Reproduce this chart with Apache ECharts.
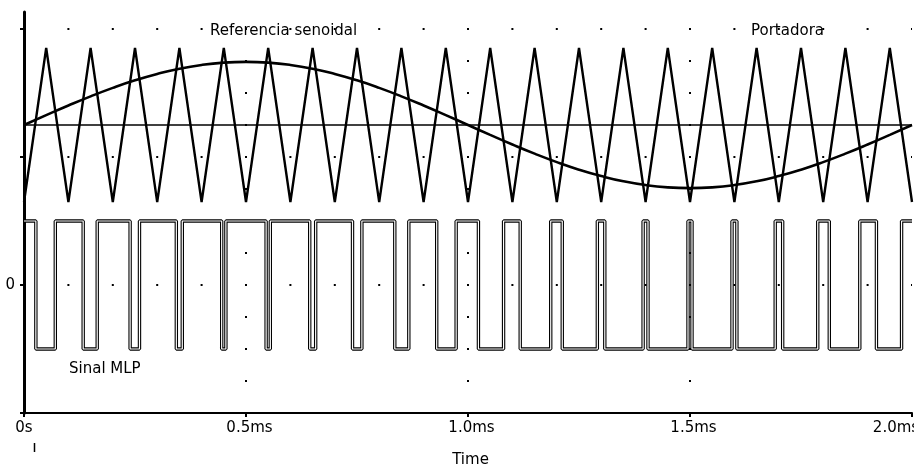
<!DOCTYPE html>
<html>
<head>
<meta charset="utf-8">
<script src="https://cdn.jsdelivr.net/npm/echarts@6/dist/echarts.min.js"></script>
<style>
  html, body { margin: 0; padding: 0; background: #fff; }
  #chart { width: 914px; height: 468px; }
</style>
</head>
<body>
<div id="chart"></div>
<script>
// Time in milliseconds.
// Triangular carrier (10 kHz): vertices of the waveform.
const carrierTimes = [
  0, 0.05, 0.1, 0.15, 0.2, 0.25, 0.3, 0.35, 0.4, 0.45,
  0.5, 0.55, 0.6, 0.65, 0.7, 0.75, 0.8, 0.85, 0.9, 0.95,
  1.0, 1.05, 1.1, 1.15, 1.2, 1.25, 1.3, 1.35, 1.4, 1.45,
  1.5, 1.55, 1.6, 1.65, 1.7, 1.75, 1.8, 1.85, 1.9, 1.95, 2.0
];
const carrierValues = [
  -1, 1, -1, 1, -1, 1, -1, 1, -1, 1,
  -1, 1, -1, 1, -1, 1, -1, 1, -1, 1,
  -1, 1, -1, 1, -1, 1, -1, 1, -1, 1,
  -1, 1, -1, 1, -1, 1, -1, 1, -1, 1, -1
];

// Sinusoidal reference, sampled on the same instants as the carrier vertices.
const referenceTimes = carrierTimes;
const referenceValues = [
  0, 0.128, 0.253, 0.372, 0.482, 0.580, 0.663, 0.731, 0.780, 0.810,
  0.820, 0.810, 0.780, 0.731, 0.663, 0.580, 0.482, 0.372, 0.253, 0.128,
  0, -0.128, -0.253, -0.372, -0.482, -0.580, -0.663, -0.731, -0.780, -0.810,
  -0.820, -0.810, -0.780, -0.731, -0.663, -0.580, -0.482, -0.372, -0.253, -0.128, 0
];

// Zero reference line of the upper traces.
const zeroLineTimes = [0, 2.0];
const zeroLineValues = [0, 0];

// PWM output: switching instants (starts high, toggles at each edge).
const pwmEdges = [
  0.0267, 0.0705, 0.1333, 0.1649, 0.2390, 0.2601, 0.3431, 0.3565, 0.4452, 0.4547,
  0.5453, 0.5548, 0.6435, 0.6569, 0.7399, 0.7610, 0.8351, 0.8667, 0.9295, 0.9733,
  1.0235, 1.0801, 1.1176, 1.1863, 1.2123, 1.2913, 1.3081, 1.3944, 1.4054, 1.4955,
  1.5045, 1.5946, 1.6056, 1.6919, 1.7087, 1.7877, 1.8137, 1.8824, 1.9199, 1.9765
];
const pwmLevels = [0.5, -0.5]; // high, low
const pwmStart = 0;
const pwmEnd = 2.0;

// Axis ticks and labels.
const timeTicks = [0, 0.5, 1.0, 1.5, 2.0];
const timeTickLabels = ['0s', '0.5ms', '1.0ms', '1.5ms', '2.0ms'];
const levelTicks = [-1, 0, 1, 2];
const levelTickLabels = ['', '0', '', ''];

const FONT = 'DejaVu Sans';
const INK = '#000';

function pairs(xs, ys) {
  return xs.map((x, i) => [x, ys[i]]);
}

function pwmPoints() {
  let state = 0;
  const pts = [[pwmStart, pwmLevels[state]]];
  pwmEdges.forEach(t => {
    pts.push([t, pwmLevels[state]]);
    state = 1 - state;
    pts.push([t, pwmLevels[state]]);
  });
  pts.push([pwmEnd, pwmLevels[state]]);
  return pts;
}

const pwmData = pwmPoints();

const chart = echarts.init(document.getElementById('chart'), null, { renderer: 'canvas' });

const option = {
  animation: false,
  backgroundColor: '#fff',
  grid: [
    { left: 24, right: 2, top: 29, bottom: 55, containLabel: false, outerBoundsMode: 'none' },
    { left: 24, right: 2, top: 12, bottom: 55, containLabel: false, outerBoundsMode: 'none' }
  ],
  xAxis: [
    {
      gridIndex: 0,
      type: 'value',
      min: timeTicks[0],
      max: timeTicks[timeTicks.length - 1],
      interval: 0.5,
      axisLine: { show: true, onZero: false, lineStyle: { color: INK, width: 2 } },
      axisTick: { show: true, inside: false, length: 4, lineStyle: { color: INK, width: 2 } },
      axisLabel: {
        color: INK,
        fontFamily: FONT,
        fontSize: 15,
        lineHeight: 15,
        margin: 8,
        formatter: function (v) {
          const i = timeTicks.findIndex(t => Math.abs(t - v) < 1e-9);
          if (i < 0) return '';
          const s = timeTickLabels[i];
          if (i === 0) return s;
          if (i === timeTicks.length - 1) return s + '{q| }';
          return '{p| }' + s;
        },
        rich: {
          p: { width: 7 },
          q: { width: 32 }
        }
      },
      splitLine: {
        show: true,
        showMaxLine: false,
        lineStyle: { color: INK, width: 2, type: [2, 30], dashOffset: 1 }
      },
      name: 'Time',
      nameLocation: 'middle',
      nameGap: 40,
      nameTextStyle: {
        color: INK, fontFamily: FONT, fontSize: 15, lineHeight: 15,
        padding: [0, 0, 0, 5]
      }
    },
    { gridIndex: 1, type: 'value', min: 0, max: 2, show: false }
  ],
  yAxis: [
    {
      gridIndex: 0,
      type: 'value',
      min: levelTicks[0],
      max: levelTicks[levelTicks.length - 1],
      interval: 1,
      axisLine: { show: false, onZero: false },
      axisTick: { show: true, inside: false, length: 4, lineStyle: { color: INK, width: 2 } },
      axisLabel: {
        color: INK,
        fontFamily: FONT,
        fontSize: 15,
        margin: 9,
        formatter: function (v) {
          const i = levelTicks.indexOf(v);
          return i < 0 ? '' : levelTickLabels[i];
        }
      },
      splitLine: {
        show: true,
        lineStyle: { color: INK, width: 2, type: [2, 42.4], dashOffset: 1 }
      }
    },
    {
      // natural units of the carrier / reference traces
      gridIndex: 0,
      type: 'value',
      min: -3.7403,
      max: 1.2468,
      show: false
    },
    {
      gridIndex: 1,
      type: 'value',
      min: 0,
      max: 1,
      axisLine: { show: true, onZero: false, lineStyle: { color: INK, width: 3 } },
      axisTick: { show: false },
      axisLabel: { show: false },
      splitLine: { show: false }
    }
  ],
  series: [
    {
      name: 'Referencia senoidal zero',
      type: 'line',
      xAxisIndex: 0,
      yAxisIndex: 1,
      data: pairs(zeroLineTimes, zeroLineValues),
      symbol: 'none',
      lineStyle: { color: INK, width: 1.5 },
      silent: true
    },
    {
      name: 'Portadora',
      type: 'line',
      xAxisIndex: 0,
      yAxisIndex: 1,
      data: pairs(carrierTimes, carrierValues),
      symbol: 'none',
      lineStyle: { color: INK, width: 2.4 },
      silent: true
    },
    {
      name: 'Referencia senoidal',
      type: 'line',
      xAxisIndex: 0,
      yAxisIndex: 1,
      data: pairs(referenceTimes, referenceValues),
      symbol: 'none',
      smooth: true,
      lineStyle: { color: INK, width: 2.6 },
      silent: true
    },
    {
      name: 'Sinal MLP',
      type: 'line',
      xAxisIndex: 0,
      yAxisIndex: 0,
      data: pwmData,
      symbol: 'none',
      lineStyle: { color: INK, width: 3.4 },
      silent: true,
      z: 3
    },
    {
      name: 'Sinal MLP core',
      type: 'line',
      xAxisIndex: 0,
      yAxisIndex: 0,
      data: pwmData,
      symbol: 'none',
      lineStyle: { color: '#fff', width: 1.2 },
      silent: true,
      z: 4
    }
  ],
  graphic: [
    {
      type: 'text', x: 210, y: 31, z: 10,
      style: { text: 'Referencia senoidal', fill: INK, fontFamily: FONT, fontSize: 15, align: 'left', verticalAlign: 'middle' }
    },
    {
      type: 'text', x: 751, y: 31, z: 10,
      style: { text: 'Portadora', fill: INK, fontFamily: FONT, fontSize: 15, align: 'left', verticalAlign: 'middle' }
    },
    {
      type: 'text', x: 69, y: 369, z: 10,
      style: { text: 'Sinal MLP', fill: INK, fontFamily: FONT, fontSize: 15, align: 'left', verticalAlign: 'middle' }
    },
    {
      type: 'line', z: 10,
      shape: { x1: 34.5, y1: 443, x2: 34.5, y2: 452 },
      style: { stroke: INK, lineWidth: 1.5 }
    }
  ]
};

chart.setOption(option);
</script>
</body>
</html>
